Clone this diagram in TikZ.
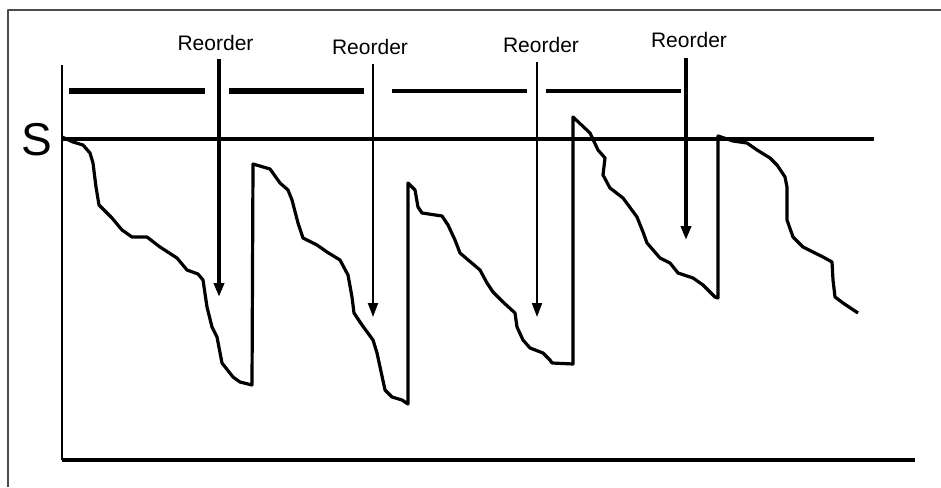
\documentclass[tikz,border=0pt]{standalone}
\usepackage{fontspec}
\setmainfont{Liberation Sans}
\usetikzlibrary{positioning,arrows.meta}
\tikzset{
  stockpic/.style={
    x=1pt
    ,y=-1pt
    ,line join=round
  }
  ,frameline/.style={draw=black!70,line width=2pt}
  ,axis/.style={draw=black,line width=2.2pt}
  ,baseaxis/.style={axis,line width=4pt}
  ,level/.style={draw=black,line width=3.3pt}
  ,period/.style={draw=black,line width=5.5pt}
  ,thinperiod/.style={period,line width=3.3pt}
  ,stock/.style={draw=black,line width=3.2pt}
  ,reorder/.style={
    draw=black
    ,line width=3.5pt
    ,-{Triangle[length=14pt,width=10pt]}
  }
  ,thinreorder/.style={reorder,line width=2pt}
  ,reorderlabel/.style={
    inner sep=0pt
    ,anchor=base
    ,font=\fontsize{21}{21}\selectfont
  }
  ,levellabel/.style={inner sep=0pt,font=\fontsize{46}{46}\selectfont}
}
\begin{document}
\begin{tikzpicture}[stockpic]
  \useasboundingbox (0,0) rectangle (941,487);

  % frame
  \draw[frameline] (8,487) -- (8,10) -- (941,10);

  % axes and the level S
  \draw[axis] (62,65) -- (62,460);
  \draw[baseaxis] (62,460) -- (915,460);
  \draw[level] (62,139) -- (874,139);
  \node[levellabel] (S) at (37,140) {S};

  % periods
  \draw[period] (69,91) -- (205,91);
  \draw[period] (229,91) -- (364,91);
  \draw[thinperiod] (392,91) -- (527,91);
  \draw[thinperiod] (546,91) -- (681,91);

  % stock on hand
  \draw[stock] (62,137) -- (73,142) -- (83,145) -- (90,153) -- (93,163)
    -- (96,187) -- (99,205) -- (112,218) -- (122,230) -- (132,237)
    -- (147,237) -- (160,247) -- (177,258) -- (187,270) -- (198,274)
    -- (203,280) -- (207,307) -- (212,327) -- (217,337) -- (222,363)
    -- (233,377) -- (240,382) -- (252,385)
    -- (253,164) -- (270,169) -- (280,183) -- (288,190) -- (292,200)
    -- (298,223) -- (303,238) -- (317,245) -- (327,252) -- (340,260)
    -- (348,275) -- (352,297) -- (354,313) -- (362,325) -- (373,340)
    -- (377,353) -- (385,390) -- (392,397) -- (402,400) -- (408,404)
    -- (408,183) -- (415,190) -- (418,207) -- (422,213) -- (442,216)
    -- (448,225) -- (455,240) -- (460,253) -- (467,259) -- (480,270)
    -- (487,283) -- (493,292) -- (503,302) -- (515,313) -- (517,327)
    -- (523,340) -- (530,348) -- (543,353) -- (550,360) -- (552,363)
    -- (573,364)
    -- (573,117) -- (590,133) -- (598,150) -- (605,158) -- (603,175)
    -- (610,188) -- (623,198) -- (637,217) -- (643,232) -- (647,243)
    -- (660,258) -- (670,263) -- (678,273) -- (693,278) -- (703,285)
    -- (715,297) -- (718,298)
    -- (718,136) -- (733,141) -- (747,143) -- (757,150) -- (770,158)
    -- (777,165) -- (785,177) -- (787,187) -- (787,220) -- (793,237)
    -- (803,247) -- (813,252) -- (823,257) -- (832,262) -- (833,280)
    -- (835,297) -- (843,303) -- (858,313);

  % reorder points
  \coordinate (r1top) at (219,59);
  \coordinate (r1tip) at (219,297);
  \coordinate (r2top) at (373,64);
  \coordinate (r2tip) at (373,317);
  \coordinate (r3top) at (537,62);
  \coordinate (r3tip) at (537,317);
  \coordinate (r4top) at (686,58);
  \coordinate (r4tip) at (686,240);

  \draw[reorder] (r1top) -- (r1tip);
  \draw[thinreorder] (r2top) -- (r2tip);
  \draw[thinreorder] (r3top) -- (r3tip);
  \draw[reorder] (r4top) -- (r4tip);

  \node[reorderlabel,above=8pt of r1top,xshift=-3.5pt] (r1) {Reorder};
  \node[reorderlabel,above=9pt of r2top,xshift=-3pt] (r2) {Reorder};
  \node[reorderlabel,above=9pt of r3top,xshift=4pt] (r3) {Reorder};
  \node[reorderlabel,above=10pt of r4top,xshift=3pt] (r4) {Reorder};
\end{tikzpicture}
\end{document}
